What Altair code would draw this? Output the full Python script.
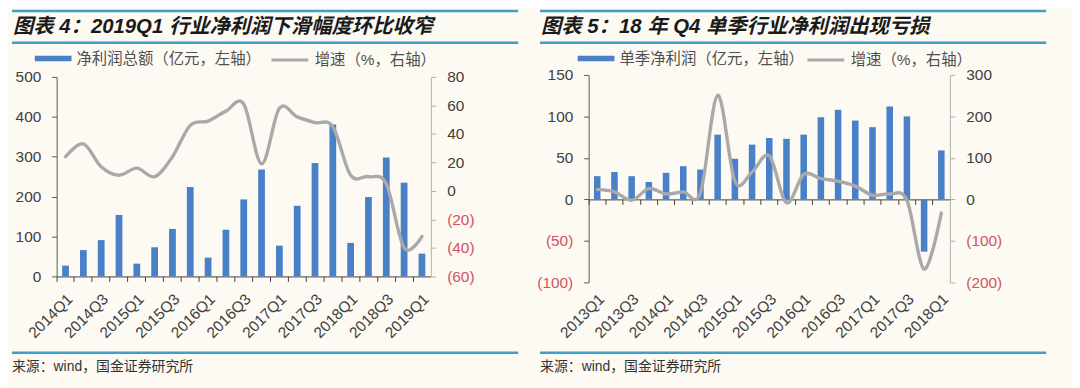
import altair as alt
import pandas as pd

# ---------------- data ----------------
L_QUARTERS = ["2014Q1", "2014Q2", "2014Q3", "2014Q4", "2015Q1", "2015Q2", "2015Q3", "2015Q4",
              "2016Q1", "2016Q2", "2016Q3", "2016Q4", "2017Q1", "2017Q2", "2017Q3", "2017Q4",
              "2018Q1", "2018Q2", "2018Q3", "2018Q4", "2019Q1"]
L_PROFIT = [27, 66, 91, 154, 32, 73, 119, 224, 47, 117, 193, 268, 77, 177, 284, 381, 84, 199, 298, 235, 57]
L_GROWTH = [24, 33, 17, 11, 16, 10, 24, 46, 49, 56, 61, 19, 58, 52, 48, 45, 11, 10, 5, -40, -32]

R_QUARTERS = ["2013Q1", "2013Q2", "2013Q3", "2013Q4", "2014Q1", "2014Q2", "2014Q3", "2014Q4",
              "2015Q1", "2015Q2", "2015Q3", "2015Q4", "2016Q1", "2016Q2", "2016Q3", "2016Q4",
              "2017Q1", "2017Q2", "2017Q3", "2017Q4", "2018Q1"]
R_PROFIT = [28, 33, 28, 21, 32, 40, 36, 78, 49, 66, 74, 73, 78, 99, 108, 95, 87, 112, 100, -63, 59]
R_GROWTH = [24, 18, -2, 26, 13, 18, 16, 251, 44, 66, 105, -8, 60, 50, 44, 32, 10, 13, -2, -168, -33]

L_LEFT_TICKS = [0, 100, 200, 300, 400, 500]
L_RIGHT_TICKS = [-60, -40, -20, 0, 20, 40, 60, 80]
R_LEFT_TICKS = [-100, -50, 0, 50, 100, 150]
R_RIGHT_TICKS = [-200, -100, 0, 100, 200, 300]

L_TITLE = "图表 4：2019Q1 行业净利润下滑幅度环比收窄"
R_TITLE = "图表 5：18 年 Q4 单季行业净利润出现亏损"
L_BAR_NAME = "净利润总额（亿元，左轴）"
R_BAR_NAME = "单季净利润（亿元，左轴）"
LINE_NAME = "增速（%，右轴）"
SOURCE = "来源：wind，国金证券研究所"

# ---------------- style ----------------
BG = "#fcfaf3"
BLUE = "#4a80c8"
GRAY = "#a9a9a9"
RED = "#d4515f"
DARK = "#404040"
RULE = "#3f9fc6"
LAT = "Liberation Sans"
CJK = "Liberation Sans, Noto Sans CJK SC"
AX_FS = 15.5
LEG_FS = 15.5

W, H = 1072, 380
OX, OY = 8, 8


def cx(p):
    return p - OX


def cy(p):
    return p - OY


PAREN = "datum.value < 0 ? '(' + format(-datum.value, 'd') + ')' : format(datum.value, 'd')"
REDNEG = {"condition": {"test": "datum.value < 0", "value": RED}, "value": DARK}
Q13 = "(slice(datum.label, -2) == 'Q1' || slice(datum.label, -2) == 'Q3') ? datum.label : ''"


def yaxis(orient, xpix, values, dom_color):
    off = -cx(xpix) if orient == "left" else cx(xpix) - W
    return alt.Axis(orient=orient, offset=off, values=values, grid=False, title=None,
                    tickSize=5, labelPadding=11, domainColor=dom_color, tickColor=dom_color,
                    labelFont=LAT, labelFontSize=AX_FS, labelColor=REDNEG, labelExpr=PAREN)


def panel(df, quarters, geom, ldom, rdom, lticks, rticks, bar_leg, line_leg, zero_axis_y, lab_pad):
    x0, x1, yt, yb = geom
    xr = [cx(x0), cx(x1)]
    yr = [cy(yb), cy(yt)]
    ysc_l = alt.Scale(domain=ldom, range=yr, nice=False, zero=False)
    ysc_r = alt.Scale(domain=rdom, range=yr, nice=False, zero=False)

    tick_axis = alt.Axis(orient="bottom", offset=cy(zero_axis_y) - H, labels=False, ticks=True,
                         tickSize=5, bandPosition=0, domainColor=DARK, tickColor=DARK,
                         grid=False, title=None)
    label_axis = alt.Axis(orient="bottom", offset=cy(yb) - H, domain=False, ticks=False, tickSize=0,
                          labelPadding=lab_pad, labelOffset=4, labelAngle=315, labelAlign="right",
                          labelBaseline="middle", labelExpr=Q13, labelOverlap=False, labelFont=LAT,
                          labelFontSize=AX_FS, labelColor=DARK, grid=False, title=None)

    bars = alt.Chart(df).mark_bar(width=alt.RelativeBandSize(0.38)).encode(
        x=alt.X("q:N", sort=None, axis=tick_axis,
                scale=alt.Scale(type="band", domain=quarters, range=xr, paddingInner=0, paddingOuter=0)),
        y=alt.Y("profit:Q", scale=ysc_l, axis=yaxis("left", x0, lticks, "#595959")),
        color=alt.Color("bar_s:N", scale=alt.Scale(range=[BLUE]), legend=alt.Legend(
            orient="none", legendX=cx(bar_leg[0]), legendY=cy(bar_leg[1]) - 18.5, title=None, padding=0,
            symbolType="M-1,-0.15L1,-0.15L1,0.15L-1,0.15Z", symbolSize=1369, symbolStrokeWidth=0,
            labelFont=CJK, labelFontSize=LEG_FS, labelColor="#505050", labelLimit=600, labelOffset=5)),
    )
    line = alt.Chart(df).mark_line(interpolate="cardinal", strokeWidth=3.4, strokeCap="round").encode(
        x=alt.X("q:N", sort=None, axis=label_axis,
                scale=alt.Scale(type="point", domain=quarters, range=xr, padding=0.5)),
        y=alt.Y("growth:Q", scale=ysc_r, axis=yaxis("right", x1, rticks, "#b0b0b0")),
        color=alt.Color("line_s:N", scale=alt.Scale(range=[GRAY]), legend=alt.Legend(
            orient="none", legendX=cx(line_leg[0]), legendY=cy(line_leg[1]) - 18.5, title=None, padding=0,
            symbolType="stroke", symbolSize=1369, symbolStrokeWidth=3,
            labelFont=CJK, labelFontSize=LEG_FS, labelColor="#505050", labelLimit=600, labelOffset=5)),
    )
    return [bars, line]


ldf = pd.DataFrame({"q": L_QUARTERS, "profit": L_PROFIT, "growth": L_GROWTH,
                    "bar_s": L_BAR_NAME, "line_s": LINE_NAME})
rdf = pd.DataFrame({"q": R_QUARTERS, "profit": R_PROFIT, "growth": R_GROWTH,
                    "bar_s": R_BAR_NAME, "line_s": LINE_NAME})

# geometry in page pixels: x0, x1, ytop, ybottom
L_GEOM = (57, 434, 76, 277)
R_GEOM = (593, 957, 74, 283)
R_ZERO_Y = 74 + (283 - 74) * 150 / 250

left_layers = panel(ldf, L_QUARTERS, L_GEOM, [0, 500], [-60, 80], L_LEFT_TICKS, L_RIGHT_TICKS,
                    (35, 57.5), (272, 57.5), 277, 20)
right_layers = panel(rdf, R_QUARTERS, R_GEOM, [-100, 150], [-200, 300], R_LEFT_TICKS, R_RIGHT_TICKS,
                     (582, 57.5), (812, 57.5), R_ZERO_Y, 14)


def hrule(xa, xb, y):
    return alt.Chart().mark_rule(color=RULE, strokeWidth=2.5).encode(
        x=alt.value(cx(xa)), x2=alt.value(cx(xb)), y=alt.value(cy(y)))


def text(t, x, y, size, bold=False, italic=False, color="#222222"):
    return alt.Chart().mark_text(align="left", baseline="middle", font=CJK, fontSize=size,
                                 fontWeight="bold" if bold else "normal",
                                 fontStyle="italic" if italic else "normal", color=color).encode(
        x=alt.value(cx(x)), y=alt.value(cy(y)), text=alt.value(t))


deco = [
    hrule(12, 522, 9.5), hrule(12, 522, 41.5), hrule(12, 522, 354),
    hrule(544, 1054, 9.5), hrule(544, 1054, 41.5), hrule(544, 1054, 354),
    text(L_TITLE, 13, 25.5, 20.5, bold=True, italic=True, color="#1a1a1a"),
    text(R_TITLE, 545, 25.5, 20.5, bold=True, italic=True, color="#1a1a1a"),
    text(SOURCE, 12, 368, 14, color="#333333"),
    text(SOURCE, 544, 368, 14, color="#333333"),
]

chart = alt.layer(*left_layers, *right_layers, *deco).resolve_scale(
    x="independent", y="independent", color="independent"
).resolve_axis(x="independent", y="independent").resolve_legend(color="independent").properties(
    width=W, height=H, background=BG, padding=0, autosize=alt.AutoSizeParams(type="none")
).configure_view(stroke=None)

chart.save("out.html", embed_options={"renderer": "svg", "actions": False})
